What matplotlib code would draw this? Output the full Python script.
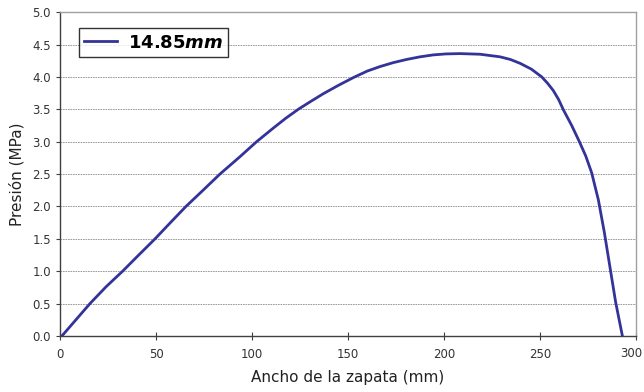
import matplotlib
matplotlib.use('Agg')
import matplotlib.pyplot as plt

# ancho de la zapata (mm) vs presion (MPa)
ancho = [1, 8, 15.6, 24, 32.6, 41, 49.5, 57.5, 65.6, 74.5, 83.3, 93.8, 102.4,
         111.1, 117.5, 124.1, 130.5, 137.1, 145, 152.8, 160, 166.7, 173.5,
         180.6, 187.5, 194.4, 201, 208.3, 218.8, 229.2, 234.5, 239.6, 245.5,
         250.9, 254, 256.9, 259.7, 262.2, 266.5, 270.5, 273.8, 276.9, 280.4,
         283.5, 286.5, 289.4, 292.9]
presion = [0.0, 0.24, 0.5, 0.76, 1.0, 1.25, 1.5, 1.75, 2.0, 2.25, 2.5, 2.77,
           3.0, 3.21, 3.36, 3.5, 3.62, 3.74, 3.87, 3.99, 4.09, 4.16, 4.22,
           4.27, 4.31, 4.34, 4.355, 4.36, 4.35, 4.31, 4.27, 4.21, 4.12, 4.0,
           3.9, 3.79, 3.65, 3.49, 3.25, 3.0, 2.78, 2.52, 2.1, 1.6, 1.05, 0.52,
           0.0]
etiqueta = r'$\mathbf{14.85}\mathbfit{mm}$'

xticks = [0, 50, 100, 150, 200, 250, 300]
yticks = [0.0, 0.5, 1.0, 1.5, 2.0, 2.5, 3.0, 3.5, 4.0, 4.5, 5.0]

fig = plt.figure(figsize=(6.44, 3.92), dpi=100)
ax = fig.add_axes([0.0932, 0.143, 0.8944, 0.826])

ax.plot(ancho, presion, color='#333399', lw=2.0, label=etiqueta,
        solid_joinstyle='round')

ax.set_xlim(0, 300)
ax.set_ylim(0, 5)
ax.set_xticks(xticks)
ax.set_xticklabels(['0', '50', '100', '150', '200', '250', ''])
ax.set_yticks(yticks)
ax.set_yticklabels(['%.1f' % v for v in yticks])
ax.grid(axis='y', color='#8c8c8c', linestyle=(0, (2, 1)), linewidth=0.6)
ax.set_axisbelow(True)

ax.tick_params(axis='x', direction='inout', length=6, colors='#404040',
               labelsize=8.5, pad=6, labelcolor='#333333')
ax.tick_params(axis='y', direction='out', length=3, colors='#404040',
               labelsize=8.5, labelcolor='#333333')
# la etiqueta 300 queda pegada al borde derecho
fig.text(0.998, 0.098, '300', ha='right', va='center', fontsize=8.5,
         color='#333333')

for s in ['left', 'bottom']:
    ax.spines[s].set_color('#404040')
    ax.spines[s].set_linewidth(1.0)
for s in ['top', 'right']:
    ax.spines[s].set_color('#a0a0a0')
    ax.spines[s].set_linewidth(1.0)

ax.set_xlabel('Ancho de la zapata (mm)', fontsize=11, color='#222222',
              labelpad=6)
ax.set_ylabel('Presión (MPa)', fontsize=11, color='#222222', labelpad=6)

leg = ax.legend(loc='upper left', bbox_to_anchor=(0.033, 0.95), fontsize=13,
                frameon=True, fancybox=False, handlelength=1.8,
                borderpad=0.3, handletextpad=0.6, borderaxespad=0)
leg.get_frame().set_edgecolor('black')
leg.get_frame().set_linewidth(1.0)

plt.savefig('out.png', dpi=100)
